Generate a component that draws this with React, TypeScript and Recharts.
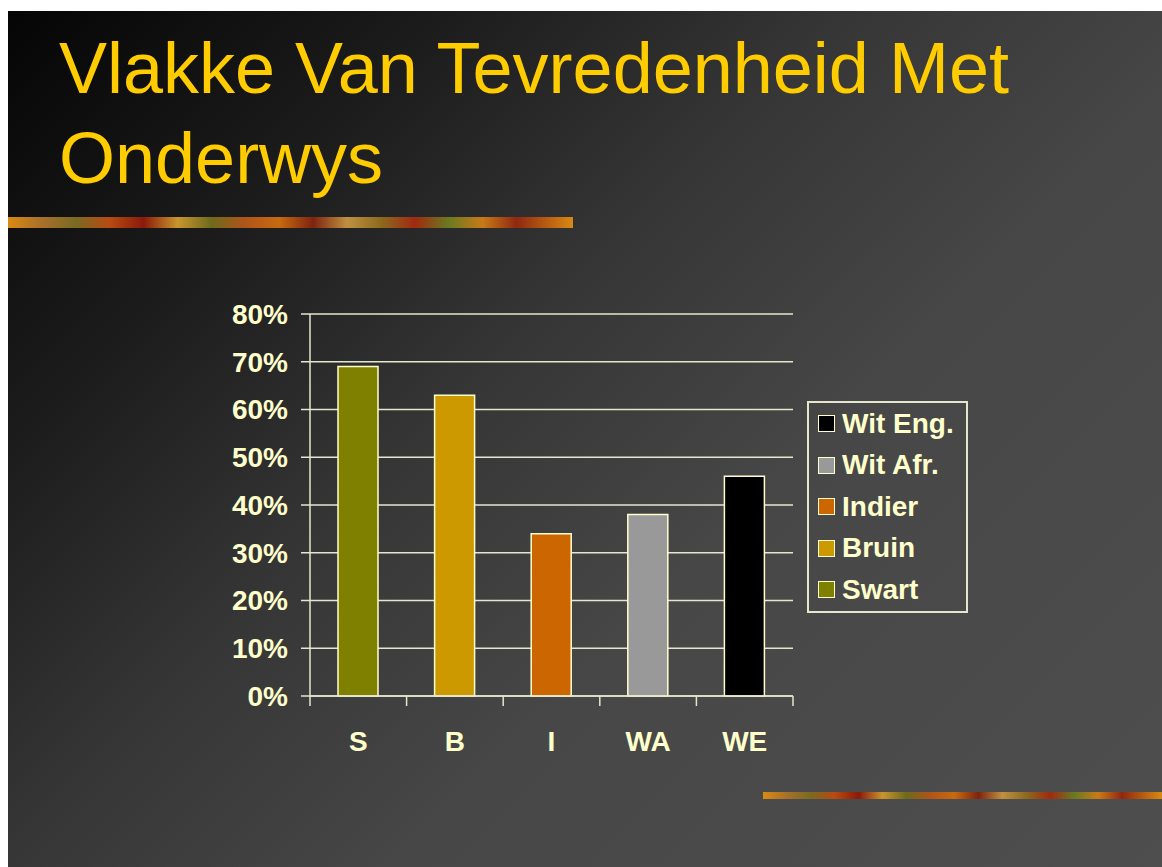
import { BarChart, Bar, XAxis, YAxis, CartesianGrid, Cell } from 'recharts';

const categories = ['S', 'B', 'I', 'WA', 'WE'];
const groupNames = ['Swart', 'Bruin', 'Indier', 'Wit Afr.', 'Wit Eng.'];
const satisfied = [69, 63, 34, 38, 46];
const barColors = ['#808000', '#cc9900', '#cc6600', '#999999', '#000000'];
const yTicks = [0, 10, 20, 30, 40, 50, 60, 70, 80];

const data = categories.map((c, i) => ({ name: c, value: satisfied[i], color: barColors[i] }));

const W = 1154;
const H = 856;
const M = { top: 303, right: 369, bottom: 111, left: 212 };
const Y_W = 90;
const halfBand = (W - M.left - M.right - Y_W) / categories.length / 2;

const cream = '#ffffcc';
const lineCol = '#e6e6cf';
const font = '"Liberation Sans", Arial, sans-serif';

const stripe =
    'linear-gradient(90deg, #d98a12 0%, #a8702a 6%, #7a6a22 12%, #b84a12 18%, #8a1a0a 24%, #c9952e 30%, #6e6a1c 36%, #b0541a 42%, #c86a10 48%, #7d2410 54%, #c09040 60%, #8d6a20 66%, #a02a10 72%, #6a7a22 78%, #c87a18 84%, #902810 90%, #d98a12 100%)';

function XTick(props: any) {
    const { x, y, payload, index } = props;
    return (
        <g>
            <line x1={x - halfBand} x2={x - halfBand} y1={y} y2={y + 10} stroke={lineCol} strokeWidth={1.5} />
            {index === categories.length - 1 && (
                <line x1={x + halfBand} x2={x + halfBand} y1={y} y2={y + 10} stroke={lineCol} strokeWidth={1.5} />
            )}
            <text x={x} y={y + 55} textAnchor="middle" fill={cream} fontSize={28} fontWeight="bold" fontFamily={font}>
                {payload.value}
            </text>
        </g>
    );
}

export default function App() {
    return (
        <div
            style={{
                position: 'absolute',
                left: 8,
                top: 11,
                width: W,
                height: H,
                overflow: 'hidden',
                background: 'linear-gradient(135deg, #050505 0%, #1c1c1c 22%, #363636 42%, #474747 62%, #4e4e4e 100%)',
                fontFamily: font,
            }}
        >
            <div
                style={{
                    position: 'absolute',
                    left: 51,
                    top: 12,
                    fontSize: 72,
                    lineHeight: '90px',
                    color: '#ffcc00',
                    whiteSpace: 'nowrap',
                }}
            >
                Vlakke Van Tevredenheid Met
                <br />
                Onderwys
            </div>
            <div style={{ position: 'absolute', left: 0, top: 206, width: 565, height: 11, background: stripe }} />
            <div style={{ position: 'absolute', left: 755, top: 781, width: 399, height: 7, background: stripe }} />

            <div style={{ position: 'absolute', left: 0, top: 0 }}>
                <BarChart width={W} height={H} data={data} margin={M}>
                    <CartesianGrid vertical={false} stroke={lineCol} strokeWidth={1.5} />
                    <XAxis
                        dataKey="name"
                        height={60}
                        axisLine={{ stroke: lineCol, strokeWidth: 1.5 }}
                        tickLine={false}
                        tickSize={0}
                        tickMargin={0}
                        tick={<XTick />}
                        interval={0}
                    />
                    <YAxis
                        width={Y_W}
                        domain={[0, 80]}
                        ticks={yTicks}
                        interval={0}
                        tickFormatter={(v: number) => `${v}%`}
                        axisLine={{ stroke: lineCol, strokeWidth: 1.5 }}
                        tickLine={{ stroke: lineCol, strokeWidth: 1.5 }}
                        tickSize={9}
                        tickMargin={13}
                        tick={{ fill: cream, fontSize: 28, fontWeight: 'bold', fontFamily: font }}
                    />
                    <YAxis
                        yAxisId="border"
                        orientation="right"
                        width={0}
                        domain={[0, 80]}
                        tick={false}
                        tickLine={false}
                        axisLine={{ stroke: lineCol, strokeWidth: 1.5 }}
                    />
                    <Bar dataKey="value" barSize={40} stroke={cream} strokeWidth={1.5} isAnimationActive={false}>
                        {data.map((d, i) => (
                            <Cell key={`cell-${i}`} fill={d.color} />
                        ))}
                    </Bar>
                </BarChart>
            </div>

            <div
                style={{
                    position: 'absolute',
                    left: 799,
                    top: 390,
                    width: 161,
                    boxSizing: 'border-box',
                    border: `2px solid ${lineCol}`,
                    paddingLeft: 9,
                }}
            >
                {groupNames
                    .map((n, i) => ({ n, c: barColors[i] }))
                    .reverse()
                    .map((g) => (
                        <div key={g.n} style={{ height: 41.5, display: 'flex', alignItems: 'center' }}>
                            <div
                                style={{
                                    width: 15,
                                    height: 15,
                                    background: g.c,
                                    border: `1.5px solid ${cream}`,
                                    marginRight: 7,
                                    flexShrink: 0,
                                }}
                            />
                            <span style={{ color: cream, fontSize: 28, fontWeight: 'bold', whiteSpace: 'nowrap' }}>{g.n}</span>
                        </div>
                    ))}
            </div>
        </div>
    );
}
